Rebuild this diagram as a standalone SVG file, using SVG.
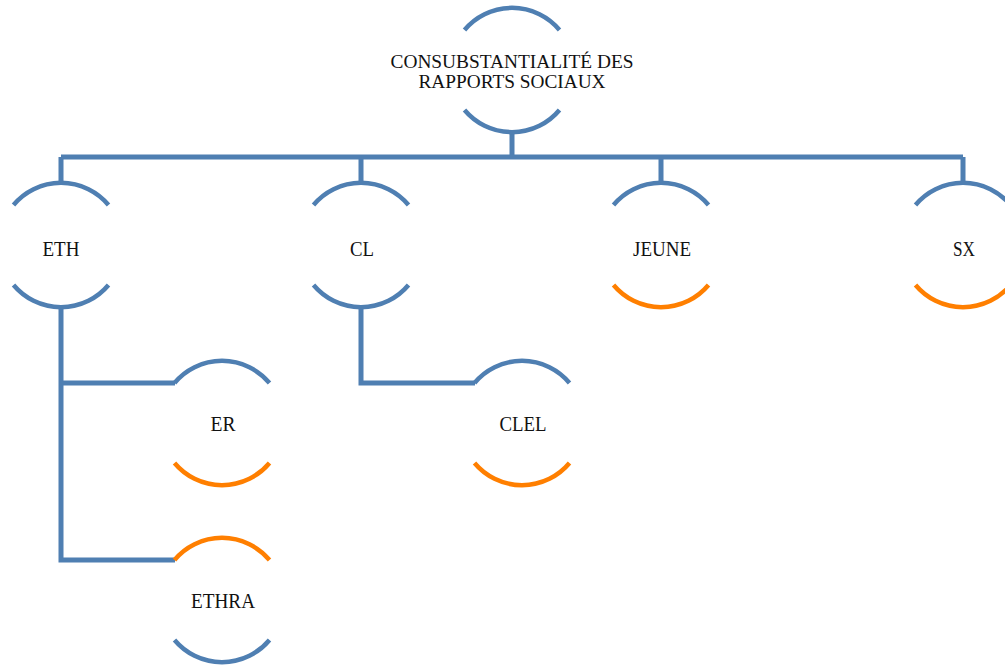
<svg xmlns="http://www.w3.org/2000/svg" width="1005" height="666" viewBox="0 0 1005 666">
<style>
.b{fill:none;stroke:#4f7fb2;stroke-width:4.5}
.o{fill:none;stroke:#ff7f00;stroke-width:4.5}
.c{fill:none;stroke:#4f7fb2;stroke-width:5}
text{font-family:"Liberation Serif","DejaVu Serif",serif;font-size:21px;fill:#111;text-anchor:middle}
text.r{font-size:19px}
</style>
<rect width="1005" height="666" fill="#fff"/>
<g id="connectors">
<path class="c" d="M512 132V157M61 157H963M61 157V184M361 157V184M661 157V184M963 157V184"/>
<path class="c" d="M61 306V560H175M61 383H175"/>
<path class="c" d="M361 306V383H475"/>
</g>
<g id="root">
<path class="b" d="M464.5 30A62 62 0 0 1 559.5 30"/>
<path class="b" d="M464.5 110A62 62 0 0 0 559.5 110"/>
<text class="r" x="512" y="68" textLength="243" lengthAdjust="spacingAndGlyphs">CONSUBSTANTIALITÉ DES</text>
<text class="r" x="512" y="88" textLength="187" lengthAdjust="spacingAndGlyphs">RAPPORTS SOCIAUX</text>
</g>
<g id="eth">
<path class="b" d="M13.5 205A62 62 0 0 1 108.5 205"/>
<path class="b" d="M13.5 285A62 62 0 0 0 108.5 285"/>
<text x="61" y="256" textLength="37" lengthAdjust="spacingAndGlyphs">ETH</text>
</g>
<g id="cl">
<path class="b" d="M313.5 205A62 62 0 0 1 408.5 205"/>
<path class="b" d="M313.5 285A62 62 0 0 0 408.5 285"/>
<text x="362" y="256" textLength="24" lengthAdjust="spacingAndGlyphs">CL</text>
</g>
<g id="jeune">
<path class="b" d="M613.5 205A62 62 0 0 1 708.5 205"/>
<path class="o" d="M613.5 285A62 62 0 0 0 708.5 285"/>
<text x="662" y="256" textLength="58" lengthAdjust="spacingAndGlyphs">JEUNE</text>
</g>
<g id="sx">
<path class="b" d="M915.5 205A62 62 0 0 1 1010.5 205"/>
<path class="o" d="M915.5 285A62 62 0 0 0 1010.5 285"/>
<text x="964" y="256" textLength="22" lengthAdjust="spacingAndGlyphs">SX</text>
</g>
<g id="er">
<path class="b" d="M174.5 383A62 62 0 0 1 269.5 383"/>
<path class="o" d="M174.5 463A62 62 0 0 0 269.5 463"/>
<text x="223" y="431" textLength="25" lengthAdjust="spacingAndGlyphs">ER</text>
</g>
<g id="clel">
<path class="b" d="M474.5 383A62 62 0 0 1 569.5 383"/>
<path class="o" d="M474.5 463A62 62 0 0 0 569.5 463"/>
<text x="523" y="431" textLength="47" lengthAdjust="spacingAndGlyphs">CLEL</text>
</g>
<g id="ethra">
<path class="o" d="M174.5 560A62 62 0 0 1 269.5 560"/>
<path class="b" d="M174.5 640A62 62 0 0 0 269.5 640"/>
<text x="223" y="608" textLength="64" lengthAdjust="spacingAndGlyphs">ETHRA</text>
</g>
</svg>
